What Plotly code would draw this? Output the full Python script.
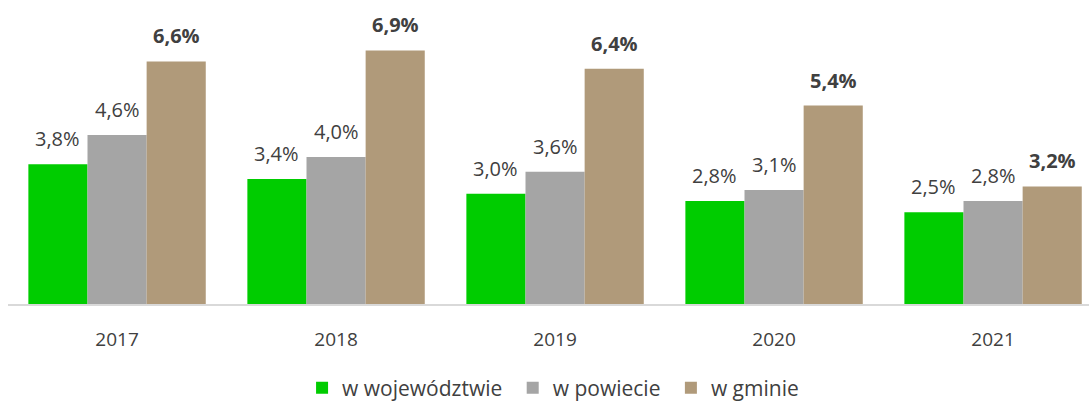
import plotly.graph_objects as go

years = ["2017", "2018", "2019", "2020", "2021"]
wojewodztwo = [3.8, 3.4, 3.0, 2.8, 2.5]
powiat = [4.6, 4.0, 3.6, 3.1, 2.8]
gmina = [6.6, 6.9, 6.4, 5.4, 3.2]

series = [
    ("w województwie", wojewodztwo, "#00CC00", False),
    ("w powiecie", powiat, "#A5A5A5", False),
    ("w gminie", gmina, "#B09A7A", True),
]

BARGAP = 0.19
bar_w = (1 - BARGAP) / len(series)

fig = go.Figure()
for i, (name, vals, color, bold) in enumerate(series):
    fig.add_trace(go.Bar(
        x=years, y=vals, name=name + "\u00a0",
        marker=dict(color=color, line=dict(width=0)),
        hoverinfo="skip",
    ))
    for j, v in enumerate(vals):
        txt = f"{v:.1f}%".replace(".", ",")
        if bold:
            txt = f"<b>{txt}</b>"
        fig.add_annotation(
            x=j + (i - 1) * bar_w, y=v, xref="x", yref="y",
            text=txt, showarrow=False, yanchor="bottom", xanchor="center",
            yshift=10, font=dict(size=20, color="#404040", family="Open Sans"),
        )

fig.update_layout(
    width=1089, height=401,
    margin=dict(l=8, r=0, t=10, b=97, autoexpand=False),
    paper_bgcolor="white", plot_bgcolor="white",
    barmode="group", bargap=BARGAP, bargroupgap=0,
    font=dict(family="Open Sans", color="#404040", size=19),
    showlegend=True,
    legend=dict(orientation="h", x=0.507, xanchor="center", y=-0.286, yanchor="middle",
                font=dict(size=21, color="#404040"), itemwidth=30, traceorder="normal"),
    xaxis=dict(range=[-0.498, 4.438], showline=True, linecolor="#D9D9D9", linewidth=2,
               ticks="outside", ticklen=17, tickcolor="rgba(0,0,0,0)",
               tickfont=dict(size=19, color="#404040"), automargin=False),
    yaxis=dict(range=[0, 8], showgrid=False, showticklabels=False, zeroline=False,
               automargin=False),
)

fig.write_html("out.html", config={"displayModeBar": False},
               post_script="document.body.style.margin='0';document.body.style.overflow='hidden';")
